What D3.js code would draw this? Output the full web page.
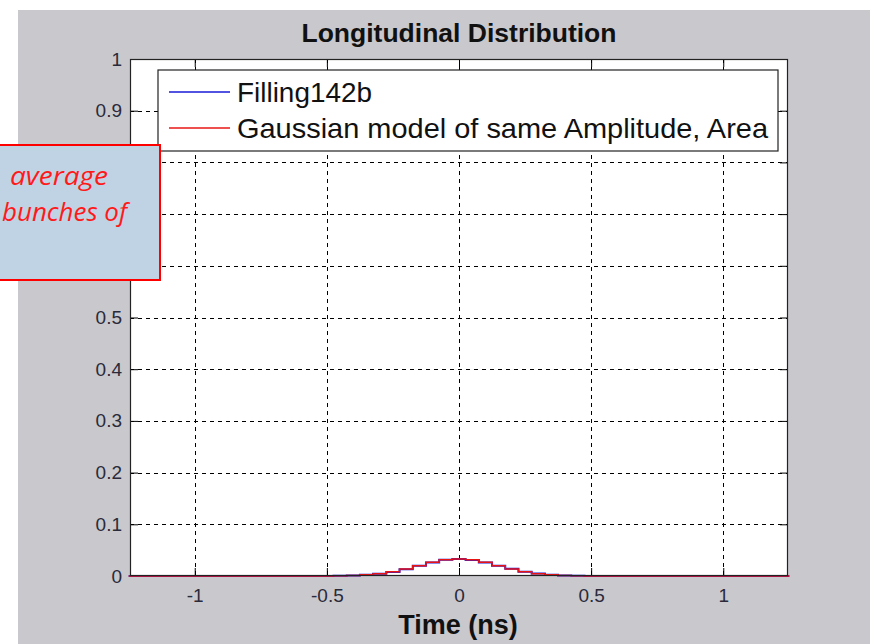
<!DOCTYPE html>
<html><head><meta charset="utf-8">
<script src="https://cdn.jsdelivr.net/npm/d3@7"></script>
<style>
html,body{margin:0;padding:0;background:#fff;}
svg{display:block;}
</style></head>
<body>
<svg id="chart" width="870" height="644"></svg>
<script>
// ---- data ----
const title = "Longitudinal Distribution";
const xLabel = "Time (ns)";
const seriesNames = ["Filling142b", "Gaussian model of same Amplitude, Area"];
const xTicks = [-1, -0.5, 0, 0.5, 1];
const xTickLabels = ["-1", "-0.5", "0", "0.5", "1"];
const yTicks = [0, 0.1, 0.2, 0.3, 0.4, 0.5, 0.6, 0.7, 0.8, 0.9, 1];
const yTickLabels = ["0", "0.1", "0.2", "0.3", "0.4", "0.5", "0.6", "0.7", "0.8", "0.9", "1"];
const time = [-1.25, -0.5, -0.45, -0.4, -0.35, -0.3, -0.25, -0.2, -0.15, -0.1, -0.05, 0,
              0.05, 0.1, 0.15, 0.2, 0.25, 0.3, 0.35, 0.4, 0.45, 0.5, 1.25];
const filling142b = [0, 0, 0.0006, 0.0012, 0.0024, 0.0042, 0.0078, 0.0130, 0.0196, 0.0262, 0.0312, 0.0328,
                     0.0310, 0.0262, 0.0198, 0.0138, 0.0084, 0.0046, 0.0024, 0.0010, 0.0004, 0, 0];
const gaussianModel = [0, 0.0001, 0.0004, 0.0009, 0.0022, 0.0045, 0.0082, 0.0136, 0.0200, 0.0264, 0.0312, 0.0330,
                       0.0312, 0.0264, 0.0200, 0.0136, 0.0082, 0.0045, 0.0022, 0.0009, 0.0004, 0.0001, 0];
const noteLines = ["average", "bunches of"];

// ---- layout ----
const svg = d3.select("#chart");
const W = 870, H = 644;
const plot = {left: 130, right: 788, top: 59, bottom: 576};
const noteBox = {x: -10, y: 145, w: 170, h: 135};
const colors = {blue: "#1a1ad8", red: "#e81414", bg: "#c9c8cc", tick: "#2a2a3a"};
const FONT = "Liberation Sans, Arial, sans-serif";

svg.append("rect").attr("x", 18).attr("y", 10).attr("width", W - 18).attr("height", H - 10).attr("fill", colors.bg);

const x = d3.scaleLinear().domain([-1.245, 1.245]).range([plot.left, plot.right]);
const y = d3.scaleLinear().domain([0, 1]).range([plot.bottom, plot.top]);

svg.append("rect").attr("x", plot.left).attr("y", plot.top)
  .attr("width", plot.right - plot.left).attr("height", plot.bottom - plot.top).attr("fill", "#fff");

// grid
const grid = svg.append("g").attr("stroke", "#000").attr("stroke-width", 1).attr("stroke-dasharray", "4,4");
grid.selectAll("line.gx").data(xTicks).join("line")
  .attr("x1", d => Math.round(x(d)) + 0.5).attr("x2", d => Math.round(x(d)) + 0.5)
  .attr("y1", plot.top).attr("y2", plot.bottom);
grid.selectAll("line.gy").data(yTicks.filter(d => d > 0 && d < 1)).join("line")
  .attr("y1", d => Math.round(y(d)) + 0.5).attr("y2", d => Math.round(y(d)) + 0.5)
  .attr("x1", plot.left).attr("x2", plot.right);

// axes (ticks inward on all four sides)
const fmtX = d => xTickLabels[xTicks.indexOf(d)];
// labels 0.6-0.8 lie under the annotation box in the reference (hidden there)
const fmtY = d => {
  const yy = y(d);
  return (yy > noteBox.y && yy < noteBox.y + noteBox.h) ? "" : yTickLabels[yTicks.indexOf(d)];
};
function styleAxis(g, showLabels) {
  g.select(".domain").remove();
  g.selectAll(".tick line").attr("stroke", "#000");
  g.selectAll(".tick text").attr("fill", colors.tick).attr("font-family", FONT).attr("font-size", 19);
  if (!showLabels) g.selectAll(".tick text").remove();
}
svg.append("g").attr("transform", `translate(0,${plot.bottom})`)
  .call(d3.axisBottom(x).tickValues(xTicks).tickFormat(fmtX).tickSize(-8).tickPadding(13))
  .call(g => styleAxis(g, true));
svg.append("g").attr("transform", `translate(0,${plot.top})`)
  .call(d3.axisTop(x).tickValues(xTicks).tickFormat(fmtX).tickSize(-8))
  .call(g => styleAxis(g, false));
svg.append("g").attr("transform", `translate(${plot.left},0)`)
  .call(d3.axisLeft(y).tickValues(yTicks).tickFormat(fmtY).tickSize(-8).tickPadding(8))
  .call(g => styleAxis(g, true));
svg.append("g").attr("transform", `translate(${plot.right},0)`)
  .call(d3.axisRight(y).tickValues(yTicks).tickFormat(fmtY).tickSize(-8))
  .call(g => styleAxis(g, false));

// lines
const line = d3.line().x((d, i) => x(time[i])).y(d => y(d)).curve(d3.curveStep);
svg.append("path").datum(filling142b).attr("d", line).attr("fill", "none").attr("stroke", colors.blue).attr("stroke-width", 2);
svg.append("path").datum(gaussianModel).attr("d", line).attr("fill", "none").attr("stroke", colors.red).attr("stroke-width", 1.5);

// box
svg.append("rect").attr("x", plot.left + 0.5).attr("y", plot.top + 0.5)
  .attr("width", plot.right - plot.left - 1).attr("height", plot.bottom - plot.top - 1)
  .attr("fill", "none").attr("stroke", "#222").attr("stroke-width", 1.2);

// legend
const leg = svg.append("g");
leg.append("rect").attr("x", 158).attr("y", 70).attr("width", 620).attr("height", 81)
  .attr("fill", "#fff").attr("stroke", "#222").attr("stroke-width", 1.2);
const legWidths = [135, 531];
[colors.blue, colors.red].forEach((c, i) => {
  const yy = 92 + i * 36;
  leg.append("line").attr("x1", 169).attr("x2", 230).attr("y1", yy).attr("y2", yy).attr("stroke", c).attr("stroke-width", 1.3);
  leg.append("text").attr("x", 237).attr("y", yy + 10).text(seriesNames[i])
    .attr("font-family", FONT).attr("font-size", 28).attr("fill", "#111")
    .attr("textLength", legWidths[i]).attr("lengthAdjust", "spacingAndGlyphs");
});

// title and x label
svg.append("text").attr("x", 459).attr("y", 42).attr("text-anchor", "middle").text(title)
  .attr("font-family", FONT).attr("font-weight", "bold").attr("font-size", 26.5).attr("fill", "#111");
svg.append("text").attr("x", 458).attr("y", 634).attr("text-anchor", "middle").text(xLabel)
  .attr("font-family", FONT).attr("font-weight", "bold").attr("font-size", 27).attr("fill", "#111");

// annotation box
const note = svg.append("g");
note.append("rect").attr("x", noteBox.x).attr("y", noteBox.y).attr("width", noteBox.w).attr("height", noteBox.h)
  .attr("fill", "#c0d3e4").attr("stroke", "#ff0000").attr("stroke-width", 2);
const noteRight = [108, 127], noteW = [98, 125];
noteLines.forEach((t, i) => {
  note.append("text").attr("x", noteRight[i] - noteW[i]).attr("y", 185 + i * 36).text(t)
    .attr("font-family", "'Open Sans', Lato, sans-serif").attr("font-style", "italic").attr("font-size", 25).attr("fill", "#ff1a1a")
    .attr("textLength", noteW[i]).attr("lengthAdjust", "spacingAndGlyphs");
});
</script>
</body></html>
